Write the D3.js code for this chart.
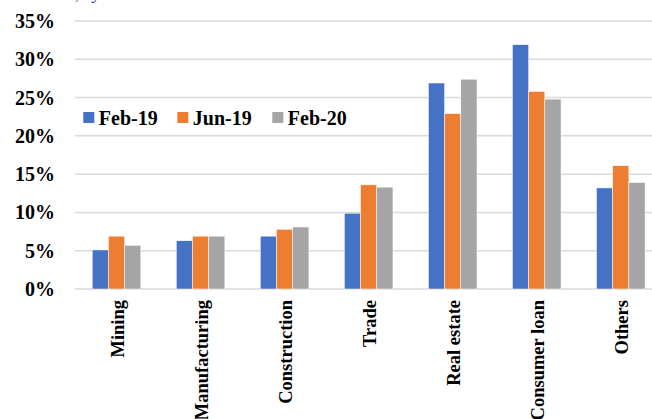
<!DOCTYPE html>
<html>
<head>
    <meta charset="utf-8">
    <title>Loans by sector</title>
    <script src="https://cdnjs.cloudflare.com/ajax/libs/d3/7.8.5/d3.min.js"></script>
</head>
<body style="margin:0">
<style>
    svg { display: block; background: #fff; }
    text { font-family: "Liberation Serif", "Times New Roman", serif; font-weight: bold; fill: #000; }
</style>
<script>
    const categories = ["Mining", "Manufacturing", "Construction", "Trade", "Real estate", "Consumer loan", "Others"];
    const series = ["Feb-19", "Jun-19", "Feb-20"];
    const feb19 = [5.1, 6.3, 6.9, 9.9, 26.9, 31.9, 13.2];
    const jun19 = [6.9, 6.9, 7.8, 13.6, 22.9, 25.8, 16.1];
    const feb20 = [5.7, 6.9, 8.1, 13.3, 27.4, 24.8, 13.9];
    const yTicks = [0, 5, 10, 15, 20, 25, 30, 35];
    const colors = ["#4472C4", "#ED7D31", "#A5A5A5"];

    const values = [feb19, jun19, feb20];

    const svg = d3.select("body").append("svg").attr("width", 652).attr("height", 419);

    // cut-off caption at the very top
    svg.append("text").attr("x", 60).attr("y", -1)
        .style("font-style", "italic").style("font-weight", "normal")
        .style("font-size", "18px").style("fill", "#2F4F9F")
        .text("%, by sector");

    const x = d3.scaleBand().domain(categories).range([74.5, 662.8]);
    const xs = d3.scaleBand().domain(series).range([-24.3, 24.3]);
    const y = d3.scaleLinear().domain([0, 35]).range([289, 21]);

    // gridlines
    svg.append("g").selectAll("line").data(yTicks).enter().append("line")
        .attr("x1", 75).attr("x2", 652)
        .attr("y1", d => y(d)).attr("y2", d => y(d))
        .attr("stroke", "#d9d9d9").attr("stroke-width", 1.5);

    // y labels
    svg.append("g").selectAll("text").data(yTicks).enter().append("text")
        .attr("x", 55).attr("y", d => y(d))
        .attr("text-anchor", "end").attr("dy", "0.35em")
        .style("font-size", "20px")
        .text(d => d + "%");

    // bars
    series.forEach((s, si) => {
        svg.append("g").selectAll("rect").data(categories).enter().append("rect")
            .attr("x", c => x(c) + x.bandwidth() / 2 + xs(s))
            .attr("width", xs.bandwidth())
            .attr("y", (c, i) => y(values[si][i]))
            .attr("height", (c, i) => y(0) - y(values[si][i]))
            .attr("fill", colors[si])
            .attr("stroke", "#fff").attr("stroke-width", 0.5);
    });

    // x labels
    svg.append("g").selectAll("text").data(categories).enter().append("text")
        .attr("transform", c => `translate(${x(c) + x.bandwidth() / 2 + 1},300) rotate(-90)`)
        .attr("text-anchor", "end").attr("dy", "0.35em")
        .style("font-size", "18.5px")
        .text(c => c);

    // legend
    const legX = [83.3, 177.3, 272.3];
    const leg = svg.append("g").selectAll("g").data(series).enter().append("g")
        .attr("transform", (s, i) => `translate(${legX[i]},112)`);
    leg.append("rect").attr("width", 11).attr("height", 11).attr("fill", (s, i) => colors[i]);
    leg.append("text").attr("x", 15.5).attr("y", 13).style("font-size", "20px").text(s => s);
</script>
</body>
</html>
